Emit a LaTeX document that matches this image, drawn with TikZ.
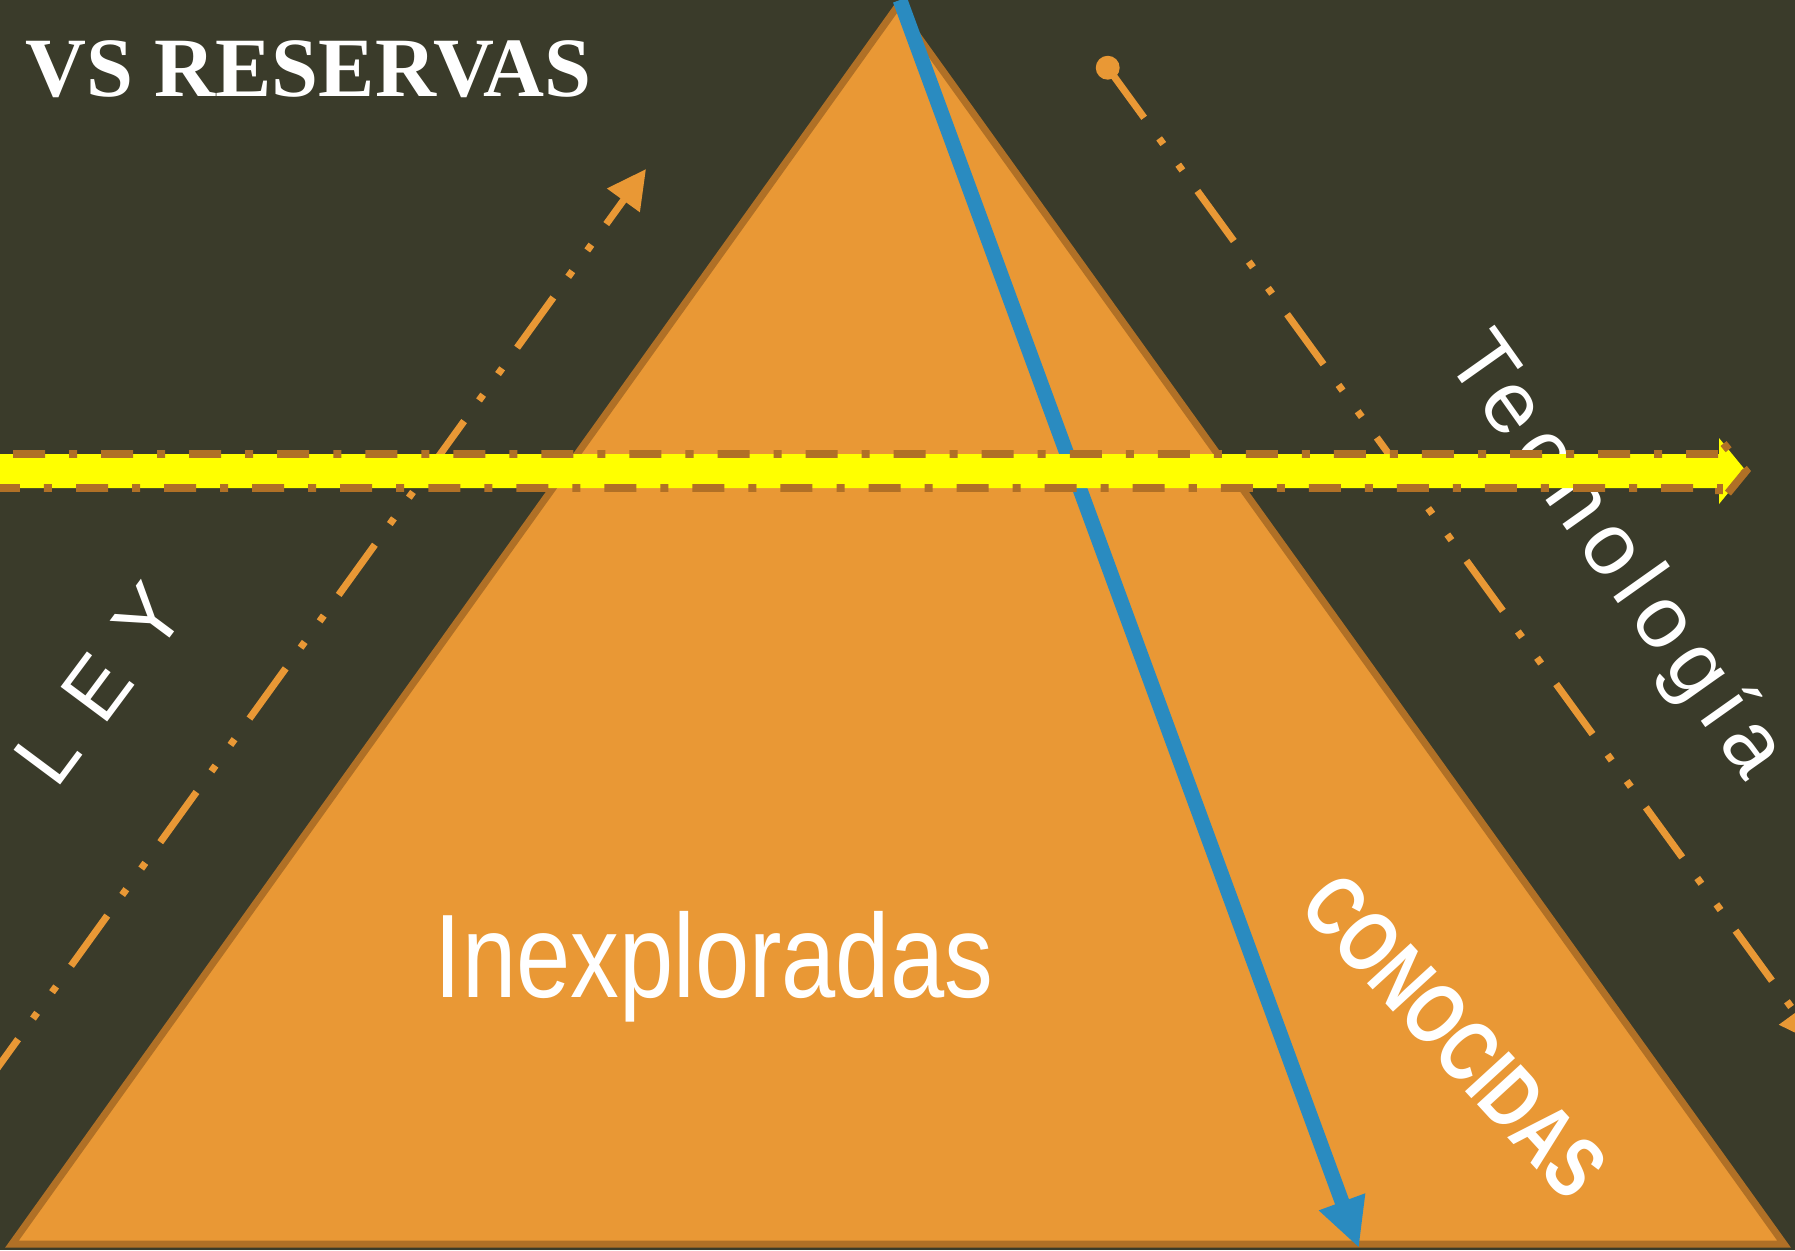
\documentclass[tikz,border=0pt]{standalone}
\usepackage{fontspec}
\setmainfont{Liberation Serif}
\newfontfamily\narrowfont[FakeStretch=0.82]{Liberation Sans}
\newfontfamily\knownfont[FakeStretch=0.76]{Liberation Sans}
\newfontfamily\leyfont[LetterSpace=37]{Liberation Sans}
\newfontfamily\techfont[LetterSpace=12]{Liberation Sans}
\usetikzlibrary{arrows.meta}

\definecolor{board}{RGB}{58,59,42}
\definecolor{pyrfill}{RGB}{233,152,53}
\definecolor{pyredge}{RGB}{176,112,38}
\definecolor{knownblue}{RGB}{42,139,192}
\definecolor{arrowyellow}{RGB}{255,255,0}

\begin{document}
\begin{tikzpicture}[x=0.01cm,y=-0.01cm,
    dashdotdot/.style={pyrfill, line width=2pt,
        dash pattern=on 17.6pt off 7.25pt on 2pt off 7.25pt on 2pt off 7.25pt},
    boardtext/.style={white, inner sep=0pt}]
    % Background
    \useasboundingbox (0,0) rectangle (1795,1250);
    \fill[board] (0,0) rectangle (1795,1250);
    \clip (0,0) rectangle (1795,1250);

    % Pyramid
    \coordinate (apex) at (897,7);
    \coordinate (baseleft) at (12,1244);
    \coordinate (baseright) at (1784,1244);
    \filldraw[fill=pyrfill, draw=pyredge, line width=2pt] (apex) -- (baseright) -- (baseleft) -- cycle;

    % Labels
    \node (title) at (25,96) [boardtext, anchor=base west, font=\bfseries\fontsize{24}{28}\selectfont] {VS RESERVAS};
    \node (ley) at (100,684) [boardtext, rotate=53.3, font=\leyfont\fontsize{24}{28}\selectfont] {LEY};
    \node (tech) at (1614,557) [boardtext, rotate=-54.7, font=\techfont\fontsize{25}{30}\selectfont] {Tecnología};
    \node (inexp) at (714,997) [boardtext, anchor=base, font=\narrowfont\fontsize{33.8}{38}\selectfont] {Inexploradas};
    \node (known) at (1455,1036) [boardtext, rotate=-47.5, font=\knownfont\bfseries\fontsize{24.5}{30}\selectfont] {CONOCIDAS};

    % Orange guide lines
    \coordinate (leytip) at (646,169);
    \coordinate (leyend) at (-173,1304);
    \draw[dashdotdot, dash phase=8.8pt, {Triangle[length=11pt,width=11pt]}-] (leytip) -- (leyend);
    \coordinate (techstart) at (1107.7,67.7);
    \coordinate (techtip) at (1818,1044);
    \fill[pyrfill] (techstart) circle (3.4pt);
    \draw[dashdotdot, -{Triangle[length=11pt,width=11pt]}] (techstart) -- (techtip);

    % Blue arrow
    \coordinate (bluetop) at (900,0);
    \coordinate (bluetip) at (1359,1248);
    \draw[knownblue, line width=4.2pt, -{Triangle[length=14pt,width=13pt]}] (bluetop) -- (bluetip);

    % Yellow arrow
    \draw[fill=arrowyellow, draw=pyredge, line width=2.2pt,
        dash pattern=on 9.1pt off 6.83pt on 2.28pt off 6.83pt]
        (-75,454) -- (1719,454) -- (1719,438) -- (1746,471) -- (1719,504) -- (1719,488) -- (-75,488) -- cycle;
\end{tikzpicture}
\end{document}
